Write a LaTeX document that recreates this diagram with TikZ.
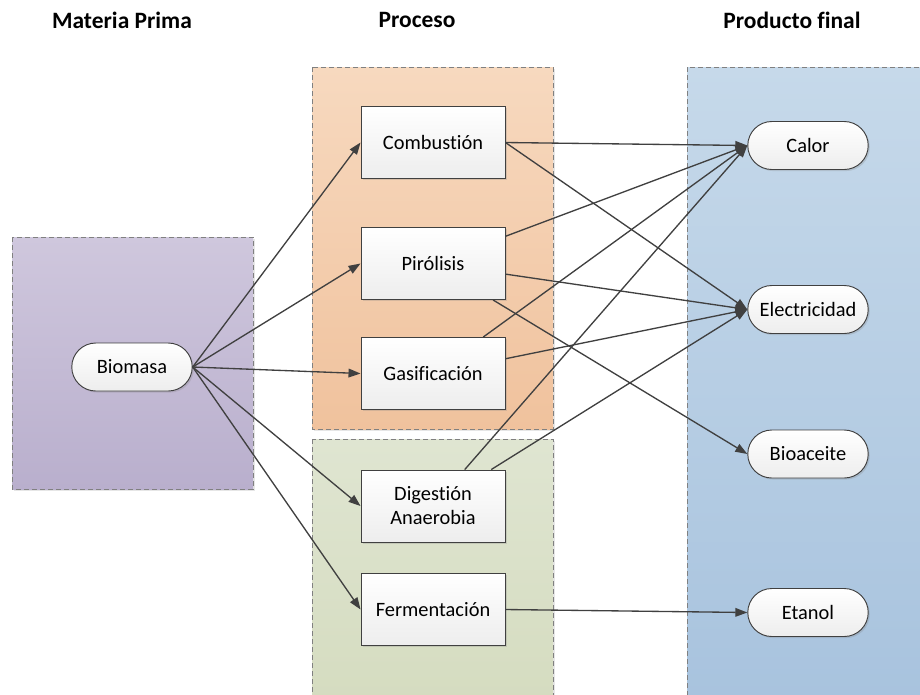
\documentclass[tikz,border=0pt]{standalone}
\usepackage{fontspec}
\setmainfont{Carlito}[Ligatures=NoCommon]
\usetikzlibrary{arrows.meta, positioning, shapes.misc, shadows}

\definecolor{lilaA}{HTML}{CFC7DD}
\definecolor{lilaB}{HTML}{B9AFCD}
\definecolor{naranjaA}{HTML}{F7D9BF}
\definecolor{naranjaB}{HTML}{F0C29D}
\definecolor{verdeA}{HTML}{DFE5D1}
\definecolor{verdeB}{HTML}{D5DCC0}
\definecolor{azulA}{HTML}{C6D9EA}
\definecolor{azulB}{HTML}{A8C3DE}

\begin{document}
\begin{tikzpicture}[
x=0.75pt, y=-0.75pt,
font=\fontsize{15.3}{18}\selectfont,
panel/.style={draw=black!50, line width=0.6pt, dash pattern=on 4pt off 2pt,
  drop shadow={shadow xshift=1.5pt, shadow yshift=-1.5pt, opacity=0.2}},
box/.style={rectangle, draw=black!75, line width=0.7pt, top color=white, bottom color=black!7,
  minimum width=108pt, minimum height=54pt, align=center,
  drop shadow={shadow xshift=1.2pt, shadow yshift=-1.2pt, opacity=0.25}},
pill/.style={rounded rectangle, draw=black!75, line width=0.7pt, top color=white, bottom color=black!7,
  minimum width=97pt, minimum height=36pt,
  drop shadow={shadow xshift=1.2pt, shadow yshift=-1.2pt, opacity=0.25}},
head/.style={font=\fontsize{17.6}{20}\selectfont\bfseries},
line/.style={draw=black!75, line width=1pt, -{Triangle[length=9pt,width=6.5pt]}}
]
\useasboundingbox (0,0) rectangle (920,694);

% fondos de cada columna
\draw[panel, top color=lilaA, bottom color=lilaB] (12,237) rectangle (253,489);
\draw[panel, top color=naranjaA, bottom color=naranjaB] (312,67) rectangle (553,429);
\draw[panel, top color=verdeA, bottom color=verdeB] (312,439) rectangle (553,700);
\draw[panel, top color=azulA, bottom color=azulB] (687,67) rectangle (930,700);

% titulos
\node[head] (tmat) at (122,20) {Materia Prima};
\node[head] (tpro) at (417,20) {Proceso};
\node[head] (tfin) at (792,20) {Producto final};

% materia prima
\node[pill] (bio) at (132,367) {Biomasa};

% procesos
\node[box] (comb) at (433,142.5) {Combustión};
\node[box] (pir) at (433,263.5) {Pirólisis};
\node[box] (gas) at (433,373.5) {Gasificación};
\node[box] (dig) at (433,506) {Digestión\\Anaerobia};
\node[box] (ferm) at (433,609.5) {Fermentación};

% productos
\node[pill] (calor) at (808,145.5) {Calor};
\node[pill] (elec) at (808,309.5) {Electricidad};
\node[pill] (bioa) at (808,454) {Bioaceite};
\node[pill] (etan) at (808,612.5) {Etanol};

\draw[line] (bio.east) -- (comb.west);
\draw[line] (bio.east) -- (pir.west);
\draw[line] (bio.east) -- (gas.west);
\draw[line] (bio.east) -- (dig.west);
\draw[line] (bio.east) -- (ferm.west);

\draw[line] (comb.east) -- (calor.west);
\draw[line] (comb.east) -- (elec.west);
\draw[line] (pir) -- (calor.west);
\draw[line] (pir) -- (elec.west);
\draw[line] (pir) -- (bioa.west);
\draw[line] (gas) -- (calor.west);
\draw[line] (gas) -- (elec.west);
\draw[line] (dig) -- (calor.west);
\draw[line] (dig) -- (elec.west);
\draw[line] (ferm.east) -- (etan.west);

\end{tikzpicture}
\end{document}
